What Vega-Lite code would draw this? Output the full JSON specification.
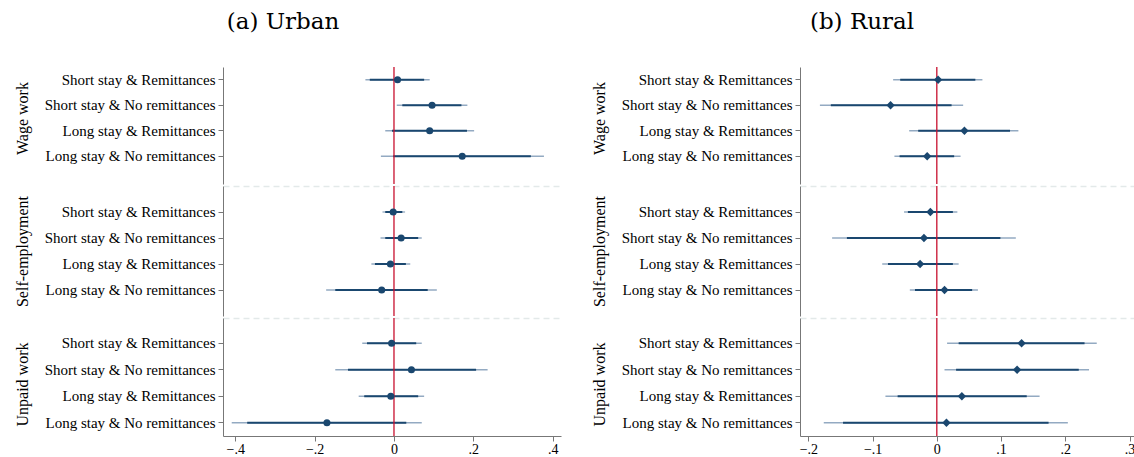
{
  "$schema": "https://vega.github.io/schema/vega-lite/v6.json",
  "padding": {"left": 14, "top": 11, "right": 0, "bottom": 0},
  "config": {
    "view": {"stroke": null},
    "font": "Liberation Serif",
    "title": {"font": "DejaVu Serif", "fontSize": 23, "fontWeight": "normal", "color": "black"},
    "axis": {"labelFont": "Liberation Serif", "labelFontSize": 14, "labelColor": "black", "tickSize": 5, "tickColor": "#777", "domainColor": "#777", "grid": false, "titleFont": "Liberation Serif", "titleFontSize": 16, "titleFontWeight": "normal", "titleColor": "black"},
    "axisY": {"labelFontSize": 15},
    "scale": {"round": false}
  },
  "datasets": {
    "est": [
      {"area": "Urban", "group": "Wage work", "cat": "Short stay & Remittances", "est": 0.009, "lo95": -0.072, "hi95": 0.090, "lo90": -0.061, "hi90": 0.076},
      {"area": "Urban", "group": "Wage work", "cat": "Short stay & No remittances", "est": 0.096, "lo95": 0.007, "hi95": 0.185, "lo90": 0.021, "hi90": 0.170},
      {"area": "Urban", "group": "Wage work", "cat": "Long stay & Remittances", "est": 0.090, "lo95": -0.022, "hi95": 0.202, "lo90": -0.005, "hi90": 0.184},
      {"area": "Urban", "group": "Wage work", "cat": "Long stay & No remittances", "est": 0.172, "lo95": -0.033, "hi95": 0.378, "lo90": -0.002, "hi90": 0.345},
      {"area": "Urban", "group": "Self-employment", "cat": "Short stay & Remittances", "est": -0.002, "lo95": -0.029, "hi95": 0.028, "lo90": -0.022, "hi90": 0.021},
      {"area": "Urban", "group": "Self-employment", "cat": "Short stay & No remittances", "est": 0.018, "lo95": -0.034, "hi95": 0.070, "lo90": -0.022, "hi90": 0.061},
      {"area": "Urban", "group": "Self-employment", "cat": "Long stay & Remittances", "est": -0.009, "lo95": -0.057, "hi95": 0.041, "lo90": -0.048, "hi90": 0.030},
      {"area": "Urban", "group": "Self-employment", "cat": "Long stay & No remittances", "est": -0.031, "lo95": -0.171, "hi95": 0.108, "lo90": -0.148, "hi90": 0.085},
      {"area": "Urban", "group": "Unpaid work", "cat": "Short stay & Remittances", "est": -0.006, "lo95": -0.080, "hi95": 0.070, "lo90": -0.068, "hi90": 0.056},
      {"area": "Urban", "group": "Unpaid work", "cat": "Short stay & No remittances", "est": 0.044, "lo95": -0.148, "hi95": 0.236, "lo90": -0.116, "hi90": 0.207},
      {"area": "Urban", "group": "Unpaid work", "cat": "Long stay & Remittances", "est": -0.008, "lo95": -0.089, "hi95": 0.076, "lo90": -0.075, "hi90": 0.061},
      {"area": "Urban", "group": "Unpaid work", "cat": "Long stay & No remittances", "est": -0.169, "lo95": -0.409, "hi95": 0.070, "lo90": -0.370, "hi90": 0.031},
      {"area": "Rural", "group": "Wage work", "cat": "Short stay & Remittances", "est": 0.002, "lo95": -0.068, "hi95": 0.071, "lo90": -0.057, "hi90": 0.060},
      {"area": "Rural", "group": "Wage work", "cat": "Short stay & No remittances", "est": -0.072, "lo95": -0.182, "hi95": 0.041, "lo90": -0.165, "hi90": 0.023},
      {"area": "Rural", "group": "Wage work", "cat": "Long stay & Remittances", "est": 0.043, "lo95": -0.043, "hi95": 0.127, "lo90": -0.029, "hi90": 0.114},
      {"area": "Rural", "group": "Wage work", "cat": "Long stay & No remittances", "est": -0.015, "lo95": -0.066, "hi95": 0.037, "lo90": -0.058, "hi90": 0.027},
      {"area": "Rural", "group": "Self-employment", "cat": "Short stay & Remittances", "est": -0.010, "lo95": -0.051, "hi95": 0.032, "lo90": -0.045, "hi90": 0.025},
      {"area": "Rural", "group": "Self-employment", "cat": "Short stay & No remittances", "est": -0.020, "lo95": -0.163, "hi95": 0.123, "lo90": -0.140, "hi90": 0.099},
      {"area": "Rural", "group": "Self-employment", "cat": "Long stay & Remittances", "est": -0.026, "lo95": -0.085, "hi95": 0.034, "lo90": -0.076, "hi90": 0.025},
      {"area": "Rural", "group": "Self-employment", "cat": "Long stay & No remittances", "est": 0.012, "lo95": -0.042, "hi95": 0.064, "lo90": -0.034, "hi90": 0.055},
      {"area": "Rural", "group": "Unpaid work", "cat": "Short stay & Remittances", "est": 0.132, "lo95": 0.016, "hi95": 0.249, "lo90": 0.034, "hi90": 0.230},
      {"area": "Rural", "group": "Unpaid work", "cat": "Short stay & No remittances", "est": 0.125, "lo95": 0.012, "hi95": 0.237, "lo90": 0.030, "hi90": 0.221},
      {"area": "Rural", "group": "Unpaid work", "cat": "Long stay & Remittances", "est": 0.039, "lo95": -0.080, "hi95": 0.160, "lo90": -0.061, "hi90": 0.140},
      {"area": "Rural", "group": "Unpaid work", "cat": "Long stay & No remittances", "est": 0.015, "lo95": -0.176, "hi95": 0.204, "lo90": -0.146, "hi90": 0.174}
    ]
  },
  "spacing": 30,
  "hconcat": [
    {
      "title": {"text": "(a) Urban", "anchor": "middle", "frame": "group", "offset": 32, "dx": 60},
      "spacing": 0,
      "vconcat": [
        {
          "width": 338, "height": 117,
          "data": {"name": "est"},
          "transform": [{"filter": "datum.area == 'Urban' && datum.group == 'Wage work'"}],
          "layer": [
            {"mark": {"type": "rule", "color": "#93aac2", "strokeWidth": 1.3},
             "encoding": {
               "x": {"field": "lo95", "type": "quantitative", "scale": {"domain": [-0.431, 0.421], "nice": false, "zero": false}, "axis": null},
               "x2": {"field": "hi95"},
               "y": {"field": "cat", "type": "nominal", "sort": ["Short stay & Remittances", "Short stay & No remittances", "Long stay & Remittances", "Long stay & No remittances"], "scale": {"paddingInner": 0, "paddingOuter": 0.294, "align": 0}, "axis": {"title": "Wage work", "titlePadding": 14, "labelPadding": 3, "titleY": 51}}}},
            {"mark": {"type": "rule", "color": "#1a476f", "strokeWidth": 2},
             "encoding": {"x": {"field": "lo90", "type": "quantitative", "axis": null}, "x2": {"field": "hi90"},
               "y": {"field": "cat", "type": "nominal", "sort": ["Short stay & Remittances", "Short stay & No remittances", "Long stay & Remittances", "Long stay & No remittances"], "scale": {"paddingInner": 0, "paddingOuter": 0.294, "align": 0}, "axis": {"title": "Wage work", "titlePadding": 14, "labelPadding": 3, "titleY": 51}}}},
            {"transform": [{"aggregate": [{"op": "count", "as": "n"}]}],
             "mark": {"type": "rule", "color": "#c8102e", "strokeWidth": 1.3},
             "encoding": {"x": {"datum": 0, "type": "quantitative", "axis": null}}},
            {"mark": {"type": "point", "filled": true, "shape": "circle", "size": 50, "opacity": 1, "color": "#1a476f"},
             "encoding": {"x": {"field": "est", "type": "quantitative", "axis": null},
               "y": {"field": "cat", "type": "nominal", "sort": ["Short stay & Remittances", "Short stay & No remittances", "Long stay & Remittances", "Long stay & No remittances"], "scale": {"paddingInner": 0, "paddingOuter": 0.294, "align": 0}, "axis": {"title": "Wage work", "titlePadding": 14, "labelPadding": 3, "titleY": 51}}}}
          ]
        },
        {
          "width": 338, "height": 130,
          "data": {"name": "est"},
          "transform": [{"filter": "datum.area == 'Urban' && datum.group == 'Self-employment'"}],
          "layer": [
            {"mark": {"type": "rule", "color": "#93aac2", "strokeWidth": 1.3},
             "encoding": {
               "x": {"field": "lo95", "type": "quantitative", "scale": {"domain": [-0.431, 0.421], "nice": false, "zero": false}, "axis": {"orient": "top", "labels": false, "ticks": false, "title": null, "domainDash": [6, 4], "domainColor": "#e3e9e9", "domainWidth": 1.5}},
               "x2": {"field": "hi95"},
               "y": {"field": "cat", "type": "nominal", "sort": ["Short stay & Remittances", "Short stay & No remittances", "Long stay & Remittances", "Long stay & No remittances"], "scale": {"paddingInner": 0, "paddingOuter": 0.5, "align": 0.5}, "axis": {"title": "Self-employment", "titlePadding": 14, "labelPadding": 3}}}},
            {"mark": {"type": "rule", "color": "#1a476f", "strokeWidth": 2},
             "encoding": {"x": {"field": "lo90", "type": "quantitative", "axis": {"orient": "top", "labels": false, "ticks": false, "title": null, "domainDash": [6, 4], "domainColor": "#e3e9e9", "domainWidth": 1.5}}, "x2": {"field": "hi90"},
               "y": {"field": "cat", "type": "nominal", "sort": ["Short stay & Remittances", "Short stay & No remittances", "Long stay & Remittances", "Long stay & No remittances"], "scale": {"paddingInner": 0, "paddingOuter": 0.5, "align": 0.5}, "axis": {"title": "Self-employment", "titlePadding": 14, "labelPadding": 3}}}},
            {"transform": [{"aggregate": [{"op": "count", "as": "n"}]}],
             "mark": {"type": "rule", "color": "#c8102e", "strokeWidth": 1.3},
             "encoding": {"x": {"datum": 0, "type": "quantitative", "axis": {"orient": "top", "labels": false, "ticks": false, "title": null, "domainDash": [6, 4], "domainColor": "#e3e9e9", "domainWidth": 1.5}}}},
            {"mark": {"type": "point", "filled": true, "shape": "circle", "size": 50, "opacity": 1, "color": "#1a476f"},
             "encoding": {"x": {"field": "est", "type": "quantitative", "axis": {"orient": "top", "labels": false, "ticks": false, "title": null, "domainDash": [6, 4], "domainColor": "#e3e9e9", "domainWidth": 1.5}},
               "y": {"field": "cat", "type": "nominal", "sort": ["Short stay & Remittances", "Short stay & No remittances", "Long stay & Remittances", "Long stay & No remittances"], "scale": {"paddingInner": 0, "paddingOuter": 0.5, "align": 0.5}, "axis": {"title": "Self-employment", "titlePadding": 14, "labelPadding": 3}}}}
          ]
        },
        {
          "width": 338, "height": 118,
          "data": {"name": "est"},
          "transform": [{"filter": "datum.area == 'Urban' && datum.group == 'Unpaid work'"}],
          "layer": [
            {"mark": {"type": "rule", "color": "#93aac2", "strokeWidth": 1.3},
             "encoding": {
               "x": {"field": "lo95", "type": "quantitative", "scale": {"domain": [-0.431, 0.421], "nice": false, "zero": false}, "axis": {"orient": "top", "labels": false, "ticks": false, "title": null, "domainDash": [6, 4], "domainColor": "#e3e9e9", "domainWidth": 1.5}},
               "x2": {"field": "hi95"},
               "y": {"field": "cat", "type": "nominal", "sort": ["Short stay & Remittances", "Short stay & No remittances", "Long stay & Remittances", "Long stay & No remittances"], "scale": {"paddingInner": 0, "paddingOuter": 0.226, "align": 1}, "axis": {"title": "Unpaid work", "titlePadding": 14, "labelPadding": 3, "titleY": 66}}}},
            {"mark": {"type": "rule", "color": "#1a476f", "strokeWidth": 2},
             "encoding": {"x": {"field": "lo90", "type": "quantitative", "axis": {"orient": "bottom", "title": null, "values": [-0.4, -0.2, 0, 0.2, 0.4], "labelExpr": "datum.value == 0 ? '0' : replace(format(datum.value, '.1f'), '0.', '.')", "labelPadding": 1}}, "x2": {"field": "hi90"},
               "y": {"field": "cat", "type": "nominal", "sort": ["Short stay & Remittances", "Short stay & No remittances", "Long stay & Remittances", "Long stay & No remittances"], "scale": {"paddingInner": 0, "paddingOuter": 0.226, "align": 1}, "axis": {"title": "Unpaid work", "titlePadding": 14, "labelPadding": 3, "titleY": 66}}}},
            {"transform": [{"aggregate": [{"op": "count", "as": "n"}]}],
             "mark": {"type": "rule", "color": "#c8102e", "strokeWidth": 1.3},
             "encoding": {"x": {"datum": 0, "type": "quantitative", "axis": null}}},
            {"mark": {"type": "point", "filled": true, "shape": "circle", "size": 50, "opacity": 1, "color": "#1a476f"},
             "encoding": {"x": {"field": "est", "type": "quantitative", "axis": null},
               "y": {"field": "cat", "type": "nominal", "sort": ["Short stay & Remittances", "Short stay & No remittances", "Long stay & Remittances", "Long stay & No remittances"], "scale": {"paddingInner": 0, "paddingOuter": 0.226, "align": 1}, "axis": {"title": "Unpaid work", "titlePadding": 14, "labelPadding": 3, "titleY": 66}}}}
          ]
        }
      ]
    },
    {
      "title": {"text": "(b) Rural", "anchor": "middle", "frame": "group", "offset": 32, "dx": 62},
      "spacing": 0,
      "vconcat": [
        {
          "width": 334, "height": 117,
          "data": {"name": "est"},
          "transform": [{"filter": "datum.area == 'Rural' && datum.group == 'Wage work'"}],
          "layer": [
            {"mark": {"type": "rule", "color": "#93aac2", "strokeWidth": 1.3},
             "encoding": {
               "x": {"field": "lo95", "type": "quantitative", "scale": {"domain": [-0.213, 0.307], "nice": false, "zero": false}, "axis": null},
               "x2": {"field": "hi95"},
               "y": {"field": "cat", "type": "nominal", "sort": ["Short stay & Remittances", "Short stay & No remittances", "Long stay & Remittances", "Long stay & No remittances"], "scale": {"paddingInner": 0, "paddingOuter": 0.294, "align": 0}, "axis": {"title": "Wage work", "titlePadding": 14, "labelPadding": 3, "titleY": 51}}}},
            {"mark": {"type": "rule", "color": "#1a476f", "strokeWidth": 2},
             "encoding": {"x": {"field": "lo90", "type": "quantitative", "axis": null}, "x2": {"field": "hi90"},
               "y": {"field": "cat", "type": "nominal", "sort": ["Short stay & Remittances", "Short stay & No remittances", "Long stay & Remittances", "Long stay & No remittances"], "scale": {"paddingInner": 0, "paddingOuter": 0.294, "align": 0}, "axis": {"title": "Wage work", "titlePadding": 14, "labelPadding": 3, "titleY": 51}}}},
            {"transform": [{"aggregate": [{"op": "count", "as": "n"}]}],
             "mark": {"type": "rule", "color": "#c8102e", "strokeWidth": 1.3},
             "encoding": {"x": {"datum": 0, "type": "quantitative", "axis": null}}},
            {"mark": {"type": "point", "filled": true, "shape": "diamond", "size": 70, "opacity": 1, "color": "#1a476f"},
             "encoding": {"x": {"field": "est", "type": "quantitative", "axis": null},
               "y": {"field": "cat", "type": "nominal", "sort": ["Short stay & Remittances", "Short stay & No remittances", "Long stay & Remittances", "Long stay & No remittances"], "scale": {"paddingInner": 0, "paddingOuter": 0.294, "align": 0}, "axis": {"title": "Wage work", "titlePadding": 14, "labelPadding": 3, "titleY": 51}}}}
          ]
        },
        {
          "width": 334, "height": 130,
          "data": {"name": "est"},
          "transform": [{"filter": "datum.area == 'Rural' && datum.group == 'Self-employment'"}],
          "layer": [
            {"mark": {"type": "rule", "color": "#93aac2", "strokeWidth": 1.3},
             "encoding": {
               "x": {"field": "lo95", "type": "quantitative", "scale": {"domain": [-0.213, 0.307], "nice": false, "zero": false}, "axis": {"orient": "top", "labels": false, "ticks": false, "title": null, "domainDash": [6, 4], "domainColor": "#e3e9e9", "domainWidth": 1.5}},
               "x2": {"field": "hi95"},
               "y": {"field": "cat", "type": "nominal", "sort": ["Short stay & Remittances", "Short stay & No remittances", "Long stay & Remittances", "Long stay & No remittances"], "scale": {"paddingInner": 0, "paddingOuter": 0.5, "align": 0.5}, "axis": {"title": "Self-employment", "titlePadding": 14, "labelPadding": 3}}}},
            {"mark": {"type": "rule", "color": "#1a476f", "strokeWidth": 2},
             "encoding": {"x": {"field": "lo90", "type": "quantitative", "axis": {"orient": "top", "labels": false, "ticks": false, "title": null, "domainDash": [6, 4], "domainColor": "#e3e9e9", "domainWidth": 1.5}}, "x2": {"field": "hi90"},
               "y": {"field": "cat", "type": "nominal", "sort": ["Short stay & Remittances", "Short stay & No remittances", "Long stay & Remittances", "Long stay & No remittances"], "scale": {"paddingInner": 0, "paddingOuter": 0.5, "align": 0.5}, "axis": {"title": "Self-employment", "titlePadding": 14, "labelPadding": 3}}}},
            {"transform": [{"aggregate": [{"op": "count", "as": "n"}]}],
             "mark": {"type": "rule", "color": "#c8102e", "strokeWidth": 1.3},
             "encoding": {"x": {"datum": 0, "type": "quantitative", "axis": {"orient": "top", "labels": false, "ticks": false, "title": null, "domainDash": [6, 4], "domainColor": "#e3e9e9", "domainWidth": 1.5}}}},
            {"mark": {"type": "point", "filled": true, "shape": "diamond", "size": 70, "opacity": 1, "color": "#1a476f"},
             "encoding": {"x": {"field": "est", "type": "quantitative", "axis": {"orient": "top", "labels": false, "ticks": false, "title": null, "domainDash": [6, 4], "domainColor": "#e3e9e9", "domainWidth": 1.5}},
               "y": {"field": "cat", "type": "nominal", "sort": ["Short stay & Remittances", "Short stay & No remittances", "Long stay & Remittances", "Long stay & No remittances"], "scale": {"paddingInner": 0, "paddingOuter": 0.5, "align": 0.5}, "axis": {"title": "Self-employment", "titlePadding": 14, "labelPadding": 3}}}}
          ]
        },
        {
          "width": 334, "height": 118,
          "data": {"name": "est"},
          "transform": [{"filter": "datum.area == 'Rural' && datum.group == 'Unpaid work'"}],
          "layer": [
            {"mark": {"type": "rule", "color": "#93aac2", "strokeWidth": 1.3},
             "encoding": {
               "x": {"field": "lo95", "type": "quantitative", "scale": {"domain": [-0.213, 0.307], "nice": false, "zero": false}, "axis": {"orient": "top", "labels": false, "ticks": false, "title": null, "domainDash": [6, 4], "domainColor": "#e3e9e9", "domainWidth": 1.5}},
               "x2": {"field": "hi95"},
               "y": {"field": "cat", "type": "nominal", "sort": ["Short stay & Remittances", "Short stay & No remittances", "Long stay & Remittances", "Long stay & No remittances"], "scale": {"paddingInner": 0, "paddingOuter": 0.226, "align": 1}, "axis": {"title": "Unpaid work", "titlePadding": 14, "labelPadding": 3, "titleY": 66}}}},
            {"mark": {"type": "rule", "color": "#1a476f", "strokeWidth": 2},
             "encoding": {"x": {"field": "lo90", "type": "quantitative", "axis": {"orient": "bottom", "title": null, "values": [-0.2, -0.1, 0, 0.1, 0.2, 0.3], "labelExpr": "datum.value == 0 ? '0' : replace(format(datum.value, '.1f'), '0.', '.')", "labelPadding": 1}}, "x2": {"field": "hi90"},
               "y": {"field": "cat", "type": "nominal", "sort": ["Short stay & Remittances", "Short stay & No remittances", "Long stay & Remittances", "Long stay & No remittances"], "scale": {"paddingInner": 0, "paddingOuter": 0.226, "align": 1}, "axis": {"title": "Unpaid work", "titlePadding": 14, "labelPadding": 3, "titleY": 66}}}},
            {"transform": [{"aggregate": [{"op": "count", "as": "n"}]}],
             "mark": {"type": "rule", "color": "#c8102e", "strokeWidth": 1.3},
             "encoding": {"x": {"datum": 0, "type": "quantitative", "axis": null}}},
            {"mark": {"type": "point", "filled": true, "shape": "diamond", "size": 70, "opacity": 1, "color": "#1a476f"},
             "encoding": {"x": {"field": "est", "type": "quantitative", "axis": null},
               "y": {"field": "cat", "type": "nominal", "sort": ["Short stay & Remittances", "Short stay & No remittances", "Long stay & Remittances", "Long stay & No remittances"], "scale": {"paddingInner": 0, "paddingOuter": 0.226, "align": 1}, "axis": {"title": "Unpaid work", "titlePadding": 14, "labelPadding": 3, "titleY": 66}}}}
          ]
        }
      ]
    }
  ]
}
